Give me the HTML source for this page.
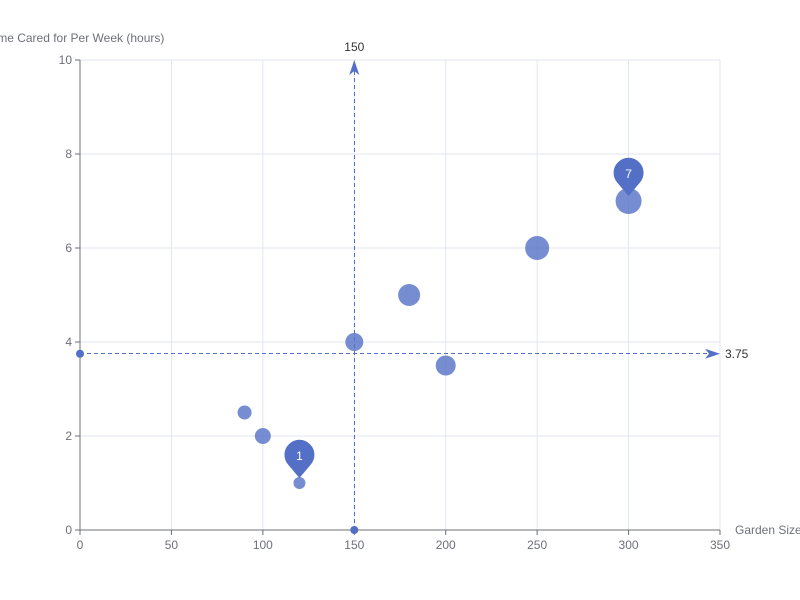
<!DOCTYPE html>
<html><head><meta charset="utf-8"><style>
html,body{margin:0;padding:0;background:#fff;}
svg{display:block;font-family:"Liberation Sans",sans-serif;}
</style></head><body>
<svg id="chart" width="800" height="600"></svg>
<script>
const xVals=[90,100,120,150,180,200,250,300];
const yVals=[2.5,2,1,4,5,3.5,6,7];
const sizes=[7,8,6,9,11,10,12,13];
const xTicks=[0,50,100,150,200,250,300,350];
const yTicks=[0,2,4,6,8,10];
const avgX=150, avgY=3.75;
const maxPoint={x:300,y:7,label:"7"};
const minPoint={x:120,y:1,label:"1"};

const NS="http://www.w3.org/2000/svg";
const svg=document.getElementById('chart');
const L=80,R=720,T=60,B=530;
const sx=v=>L+(v-0)/(350-0)*(R-L);
const sy=v=>B-(v-0)/(10-0)*(B-T);
function mk(tag,attrs,parent){const e=document.createElementNS(NS,tag);for(const k in attrs)e.setAttribute(k,attrs[k]);(parent||svg).appendChild(e);return e;}

xTicks.forEach(t=>{
 const g=mk('line',{x1:sx(t),x2:sx(t),y1:T,y2:B,stroke:'#e0e6f1'});
 
 
 const tk=mk('line',{x1:sx(t),x2:sx(t),y1:B,y2:B+5,stroke:'#6e7079'});
 
 
 const tx=mk('text',{x:sx(t),y:B+19,'text-anchor':'middle','font-size':12,fill:'#6e7079'});
 tx.textContent=t;
 
 
});
yTicks.forEach(t=>{
 const g=mk('line',{x1:L,x2:R,y1:sy(t),y2:sy(t),stroke:'#e0e6f1'});
 
 
 const tk=mk('line',{x1:L-5,x2:L,y1:sy(t),y2:sy(t),stroke:'#6e7079'});
 
 
 const tx=mk('text',{x:L-8,y:sy(t)+4,'text-anchor':'end','font-size':12,fill:'#6e7079'});
 tx.textContent=t;
 
 
});
const xa=mk('line',{x1:L,x2:R,y1:B,y2:B,stroke:'#6e7079'});


const ya=mk('line',{x1:L,x2:L,y1:T,y2:B,stroke:'#6e7079'});


const xn=mk('text',{x:735,y:534,'font-size':12,fill:'#6e7079'});
xn.textContent='Garden Size';


const yn=mk('text',{x:76,y:42,'text-anchor':'middle','font-size':12,fill:'#6e7079'});
yn.textContent='Time Cared for Per Week (hours)';



xVals.forEach((x,i)=>{
 const c=mk('circle',{cx:sx(x),cy:sy(yVals[i]),r:sizes[i],fill:'#5470c6','fill-opacity':0.8});
 
 
});

const c='#5470c6';
const vxp=Math.floor(sx(avgX))+0.5;
const vl=mk('line',{x1:vxp,x2:vxp,y1:B,y2:T+6,stroke:c,'stroke-dasharray':'4,3'});


const va=mk('path',{d:`M${sx(avgX)} ${T} L${sx(avgX)-5} ${T+15} L${sx(avgX)} ${T+11} L${sx(avgX)+5} ${T+15}Z`,fill:c});


const vd=mk('circle',{cx:sx(avgX),cy:B,r:4,fill:c});


const vt=mk('text',{x:sx(avgX),y:T-9,'text-anchor':'middle','font-size':12,fill:'#333'});
vt.textContent=avgX;



const hy=sy(avgY);
const hyp=Math.floor(hy)+0.5;
const hl=mk('line',{x1:L,x2:R-6,y1:hyp,y2:hyp,stroke:c,'stroke-dasharray':'4,3'});


const ha=mk('path',{d:`M${R} ${hy} L${R-15} ${hy-5} L${R-11} ${hy} L${R-15} ${hy+5}Z`,fill:c});


const hd=mk('circle',{cx:L,cy:hy,r:4,fill:c});


const ht=mk('text',{x:R+5,y:hy+4,'font-size':12,fill:'#333'});
ht.textContent=avgY;



function pin(p,name){
 const px=sx(p.x), tip=sy(p.y)-5, cy=tip-23, r=15;
 const path=mk('path',{d:`M${px} ${tip} L${px-11} ${cy+10} A${r} ${r} 0 1 1 ${px+11} ${cy+10} Z`,fill:c});
 
 
 const t=mk('text',{x:px,y:cy+5,'text-anchor':'middle','font-size':12,fill:'#fff'});
 t.textContent=p.label;
 
 
}
pin(maxPoint,'max-markpoint');
pin(minPoint,'min-markpoint');
</script>
</body></html>
